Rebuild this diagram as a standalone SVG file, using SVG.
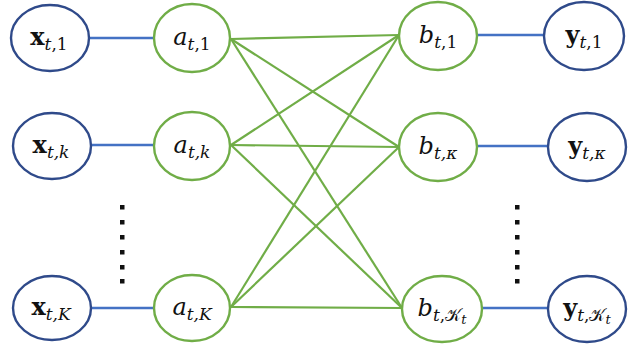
<svg xmlns="http://www.w3.org/2000/svg" width="641" height="351" viewBox="0 0 641 351">
  <style>
    .outer { fill: #ffffff; stroke: #2f4a8a; stroke-width: 2.4; }
    .inner { fill: #ffffff; stroke: #70ad47; stroke-width: 2.4; }
    .link-io { stroke: #4472c4; stroke-width: 2.4; fill: none; }
    .link-mix { stroke: #70ad47; stroke-width: 2.2; fill: none; }
    .lbl { font-family: "DejaVu Serif", "Liberation Serif", serif; font-size: 24px; fill: #111111; text-anchor: middle; }
    .bold { font-weight: bold; }
    .it { font-style: italic; }
    .up { font-style: normal; }
    .sub { font-size: 17px; }
    .subsub { font-size: 13px; font-style: italic; }
    .dot { fill: #111111; }
  </style>

  <!-- connectors -->
  <g id="connectors">
    <line class="link-io" x1="89" y1="38" x2="154" y2="38"/>
    <line class="link-io" x1="91" y1="145" x2="154" y2="145"/>
    <line class="link-io" x1="91" y1="308" x2="154" y2="308"/>
    <line class="link-io" x1="477" y1="35" x2="545" y2="35"/>
    <line class="link-io" x1="477" y1="146" x2="548" y2="146"/>
    <line class="link-io" x1="481" y1="308" x2="548" y2="308"/>

    <line class="link-mix" x1="231" y1="39" x2="399" y2="35"/>
    <line class="link-mix" x1="231" y1="39" x2="399" y2="147"/>
    <line class="link-mix" x1="231" y1="39" x2="402" y2="308"/>
    <line class="link-mix" x1="231" y1="145" x2="399" y2="35"/>
    <line class="link-mix" x1="231" y1="145" x2="399" y2="147"/>
    <line class="link-mix" x1="231" y1="145" x2="402" y2="308"/>
    <line class="link-mix" x1="231" y1="307" x2="399" y2="35"/>
    <line class="link-mix" x1="231" y1="307" x2="399" y2="147"/>
    <line class="link-mix" x1="231" y1="307" x2="402" y2="308"/>
  </g>

  <!-- input nodes -->
  <g id="x1">
    <ellipse class="outer" cx="50" cy="38" rx="39" ry="33"/>
    <text class="lbl" x="49" y="45"><tspan class="bold">x</tspan><tspan class="sub" dy="5"><tspan class="it">t</tspan>,1</tspan></text>
  </g>
  <g id="xk">
    <ellipse class="outer" cx="52" cy="146" rx="39" ry="33"/>
    <text class="lbl" x="51" y="153"><tspan class="bold">x</tspan><tspan class="sub it" dy="5">t,k</tspan></text>
  </g>
  <g id="xK">
    <ellipse class="outer" cx="52" cy="308" rx="39" ry="32"/>
    <text class="lbl" x="51" y="315"><tspan class="bold">x</tspan><tspan class="sub it" dy="5">t,K</tspan></text>
  </g>

  <!-- first hidden layer -->
  <g id="a1">
    <ellipse class="inner" cx="192" cy="38" rx="38" ry="34"/>
    <text class="lbl" x="192" y="45"><tspan class="it">a</tspan><tspan class="sub" dy="5"><tspan class="it">t</tspan>,1</tspan></text>
  </g>
  <g id="ak">
    <ellipse class="inner" cx="192" cy="146" rx="38" ry="34"/>
    <text class="lbl" x="192" y="153"><tspan class="it">a</tspan><tspan class="sub it" dy="5">t,k</tspan></text>
  </g>
  <g id="aK">
    <ellipse class="inner" cx="192" cy="308" rx="38" ry="33"/>
    <text class="lbl" x="192" y="315"><tspan class="it">a</tspan><tspan class="sub it" dy="5">t,K</tspan></text>
  </g>

  <!-- second hidden layer -->
  <g id="b1">
    <ellipse class="inner" cx="438" cy="36" rx="39" ry="34"/>
    <text class="lbl" x="438" y="43"><tspan class="it">b</tspan><tspan class="sub" dy="5"><tspan class="it">t</tspan>,1</tspan></text>
  </g>
  <g id="bk">
    <ellipse class="inner" cx="438" cy="147" rx="39" ry="34"/>
    <text class="lbl" x="438" y="154"><tspan class="it">b</tspan><tspan class="sub it" dy="5">t,κ</tspan></text>
  </g>
  <g id="bK">
    <ellipse class="inner" cx="442" cy="309" rx="40" ry="33"/>
    <text class="lbl" x="442" y="316"><tspan class="it">b</tspan><tspan class="sub" dy="5"><tspan class="it">t</tspan>,<tspan class="up">𝒦</tspan></tspan><tspan class="subsub" dy="3">t</tspan></text>
  </g>

  <!-- output nodes -->
  <g id="y1">
    <ellipse class="outer" cx="584" cy="36" rx="40" ry="34"/>
    <text class="lbl" x="584" y="43"><tspan class="bold">y</tspan><tspan class="sub" dy="5"><tspan class="it">t</tspan>,1</tspan></text>
  </g>
  <g id="yk">
    <ellipse class="outer" cx="587" cy="147" rx="39" ry="34"/>
    <text class="lbl" x="587" y="154"><tspan class="bold">y</tspan><tspan class="sub it" dy="5">t,κ</tspan></text>
  </g>
  <g id="yK">
    <ellipse class="outer" cx="587" cy="309" rx="39" ry="33"/>
    <text class="lbl" x="587" y="316"><tspan class="bold">y</tspan><tspan class="sub" dy="5"><tspan class="it">t</tspan>,<tspan class="up">𝒦</tspan></tspan><tspan class="subsub" dy="3">t</tspan></text>
  </g>

  <!-- vertical ellipsis marks -->
  <g id="dots-left" class="dot">
    <rect x="120" y="205" width="4.5" height="4.5"/>
    <rect x="120" y="220" width="4.5" height="4.5"/>
    <rect x="120" y="235" width="4.5" height="4.5"/>
    <rect x="120" y="250" width="4.5" height="4.5"/>
    <rect x="120" y="265" width="4.5" height="4.5"/>
    <rect x="120" y="279" width="4.5" height="4.5"/>
  </g>
  <g id="dots-right" class="dot">
    <rect x="515" y="205" width="4.5" height="4.5"/>
    <rect x="515" y="220" width="4.5" height="4.5"/>
    <rect x="515" y="235" width="4.5" height="4.5"/>
    <rect x="515" y="250" width="4.5" height="4.5"/>
    <rect x="515" y="265" width="4.5" height="4.5"/>
    <rect x="515" y="279" width="4.5" height="4.5"/>
  </g>
</svg>
